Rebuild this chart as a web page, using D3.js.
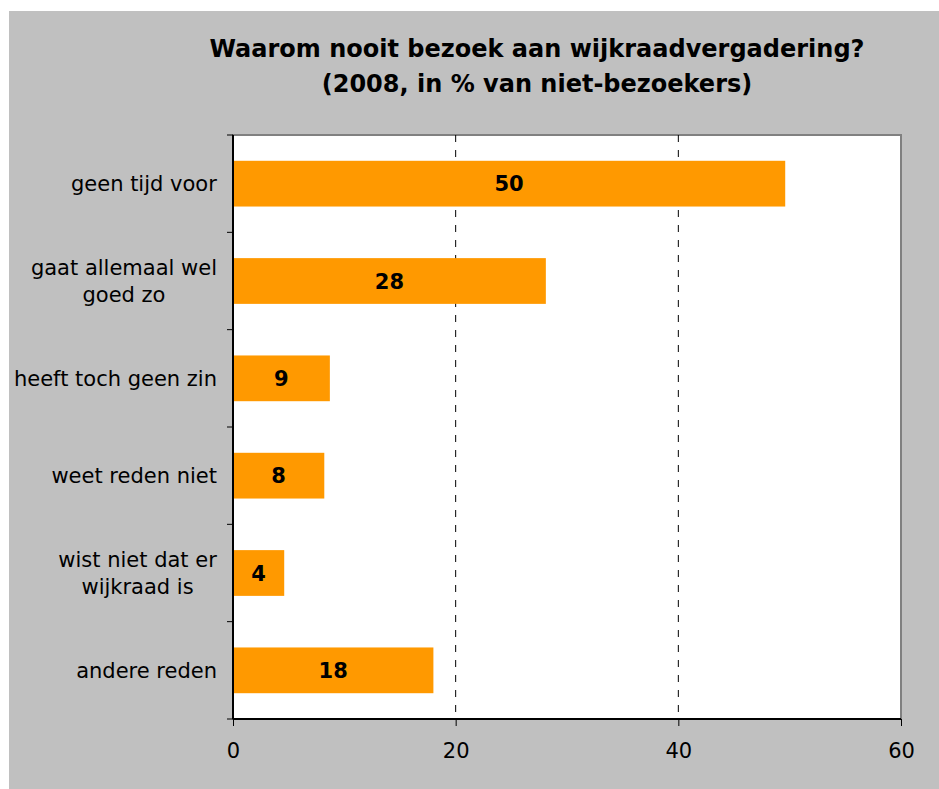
<!DOCTYPE html>
<html>
<head>
<meta charset="utf-8">
<script src="https://cdn.jsdelivr.net/npm/d3@7"></script>
<style>
  body { margin: 0; background: #fff; }
  text { font-family: "DejaVu Sans", Verdana, sans-serif; fill: #000; }
</style>
</head>
<body>
<div id="chart"></div>
<script>
  // reasons for never attending a wijkraad meeting, 2008
  const categories = [
      ["geen tijd voor"],
      ["gaat allemaal wel", "goed zo"],
      ["heeft toch geen zin"],
      ["weet reden niet"],
      ["wist niet dat er", "wijkraad is"],
      ["andere reden"]
    ],
    values = [49.6, 28.1, 8.7, 8.2, 4.6, 18.0],
    valueLabels = ["50", "28", "9", "8", "4", "18"],
    xTicks = [0, 20, 40, 60],
    titleLines = ["Waarom nooit bezoek aan wijkraadvergadering?", "(2008, in % van niet-bezoekers)"];

  const W = 939, H = 789,
    plot = {left: 233, top: 135, right: 901, bottom: 719};

  const svg = d3.select("#chart").append("svg")
      .attr("width", W)
      .attr("height", H);

  svg.append("rect")
      .attr("x", 9).attr("y", 11)
      .attr("width", W - 9).attr("height", H - 11)
      .attr("fill", "#c0c0c0");

  svg.append("rect")
      .attr("x", plot.left).attr("y", plot.top)
      .attr("width", plot.right - plot.left)
      .attr("height", plot.bottom - plot.top)
      .attr("fill", "#fff")
      .attr("stroke", "#808080")
      .attr("stroke-width", 2);

  const x = d3.scaleLinear().domain([0, 60]).range([plot.left, plot.right]);
  const y = d3.scaleBand().domain(d3.range(categories.length))
      .range([plot.top, plot.bottom])
      .paddingInner(0.53).paddingOuter(0.265);

  //dashed gridlines
  svg.selectAll(".grid")
    .data(xTicks.slice(1, -1))
    .enter().append("line")
      .attr("x1", (d) => x(d)).attr("x2", (d) => x(d))
      .attr("y1", plot.top).attr("y2", plot.bottom)
      .attr("stroke", "#000")
      .attr("stroke-width", 1)
      .attr("stroke-dasharray", "7,8");

  //bars
  svg.selectAll(".bar")
    .data(values)
    .enter().append("rect")
      .attr("x", x(0))
      .attr("y", (d, i) => y(i))
      .attr("width", (d) => x(d) - x(0))
      .attr("height", y.bandwidth())
      .attr("fill", "#ff9900");

  svg.selectAll(".valueLabel")
    .data(values)
    .enter().append("text")
      .attr("x", (d) => (x(0) + x(d)) / 2)
      .attr("y", (d, i) => y(i) + y.bandwidth() / 2)
      .attr("dy", "0.36em")
      .attr("text-anchor", "middle")
      .style("font-size", "21px")
      .style("font-weight", "bold")
      .text((d, i) => valueLabels[i]);

  //x axis
  const xAxis = svg.append("g")
      .attr("transform", "translate(0," + plot.bottom + ")")
      .call(d3.axisBottom(x).tickValues(xTicks).tickSize(7).tickPadding(17));
  xAxis.select(".domain").attr("stroke", "#000").attr("stroke-width", 2)
      .attr("d", "M" + plot.left + ",0H" + plot.right);
  xAxis.selectAll("text").style("font-size", "21px").attr("fill", "#000")
      .style("font-family", "DejaVu Sans, sans-serif");

  //y axis line and ticks at band borders
  svg.append("line")
      .attr("x1", plot.left).attr("x2", plot.left)
      .attr("y1", plot.top).attr("y2", plot.bottom)
      .attr("stroke", "#000").attr("stroke-width", 2);

  const step = (plot.bottom - plot.top) / categories.length;
  svg.selectAll(".ytick")
    .data(d3.range(categories.length + 1))
    .enter().append("line")
      .attr("x1", plot.left - 6).attr("x2", plot.left)
      .attr("y1", (d) => plot.top + d * step)
      .attr("y2", (d) => plot.top + d * step)
      .attr("stroke", "#000").attr("stroke-width", 1);

  //category labels
  const catLabels = svg.selectAll(".catLabel")
    .data(categories)
    .enter().append("text")
      .attr("text-anchor", "middle")
      .style("font-size", "21px")
      .attr("transform", (d, i) => "translate(0," + (y(i) + y.bandwidth() / 2) + ")");

  catLabels.each(function(lines) {
    const t = d3.select(this);
    lines.forEach(function(l, j) {
      t.append("tspan")
        .attr("x", 0)
        .attr("y", (j - (lines.length - 1) / 2) * 27)
        .attr("dy", "0.36em")
        .text(l);
    });
  });
  // right-align the block, center lines within it
  catLabels.each(function() {
    const bb = this.getBBox();
    const cx = plot.left - 16 - bb.width / 2;
    d3.select(this).selectAll("tspan").attr("x", cx);
  });

  //title
  svg.selectAll(".title")
    .data(titleLines)
    .enter().append("text")
      .attr("x", 537)
      .attr("y", (d, i) => 57 + i * 35)
      .attr("text-anchor", "middle")
      .style("font-size", "24px")
      .style("font-weight", "bold")
      .text((d) => d);
</script>
</body>
</html>
